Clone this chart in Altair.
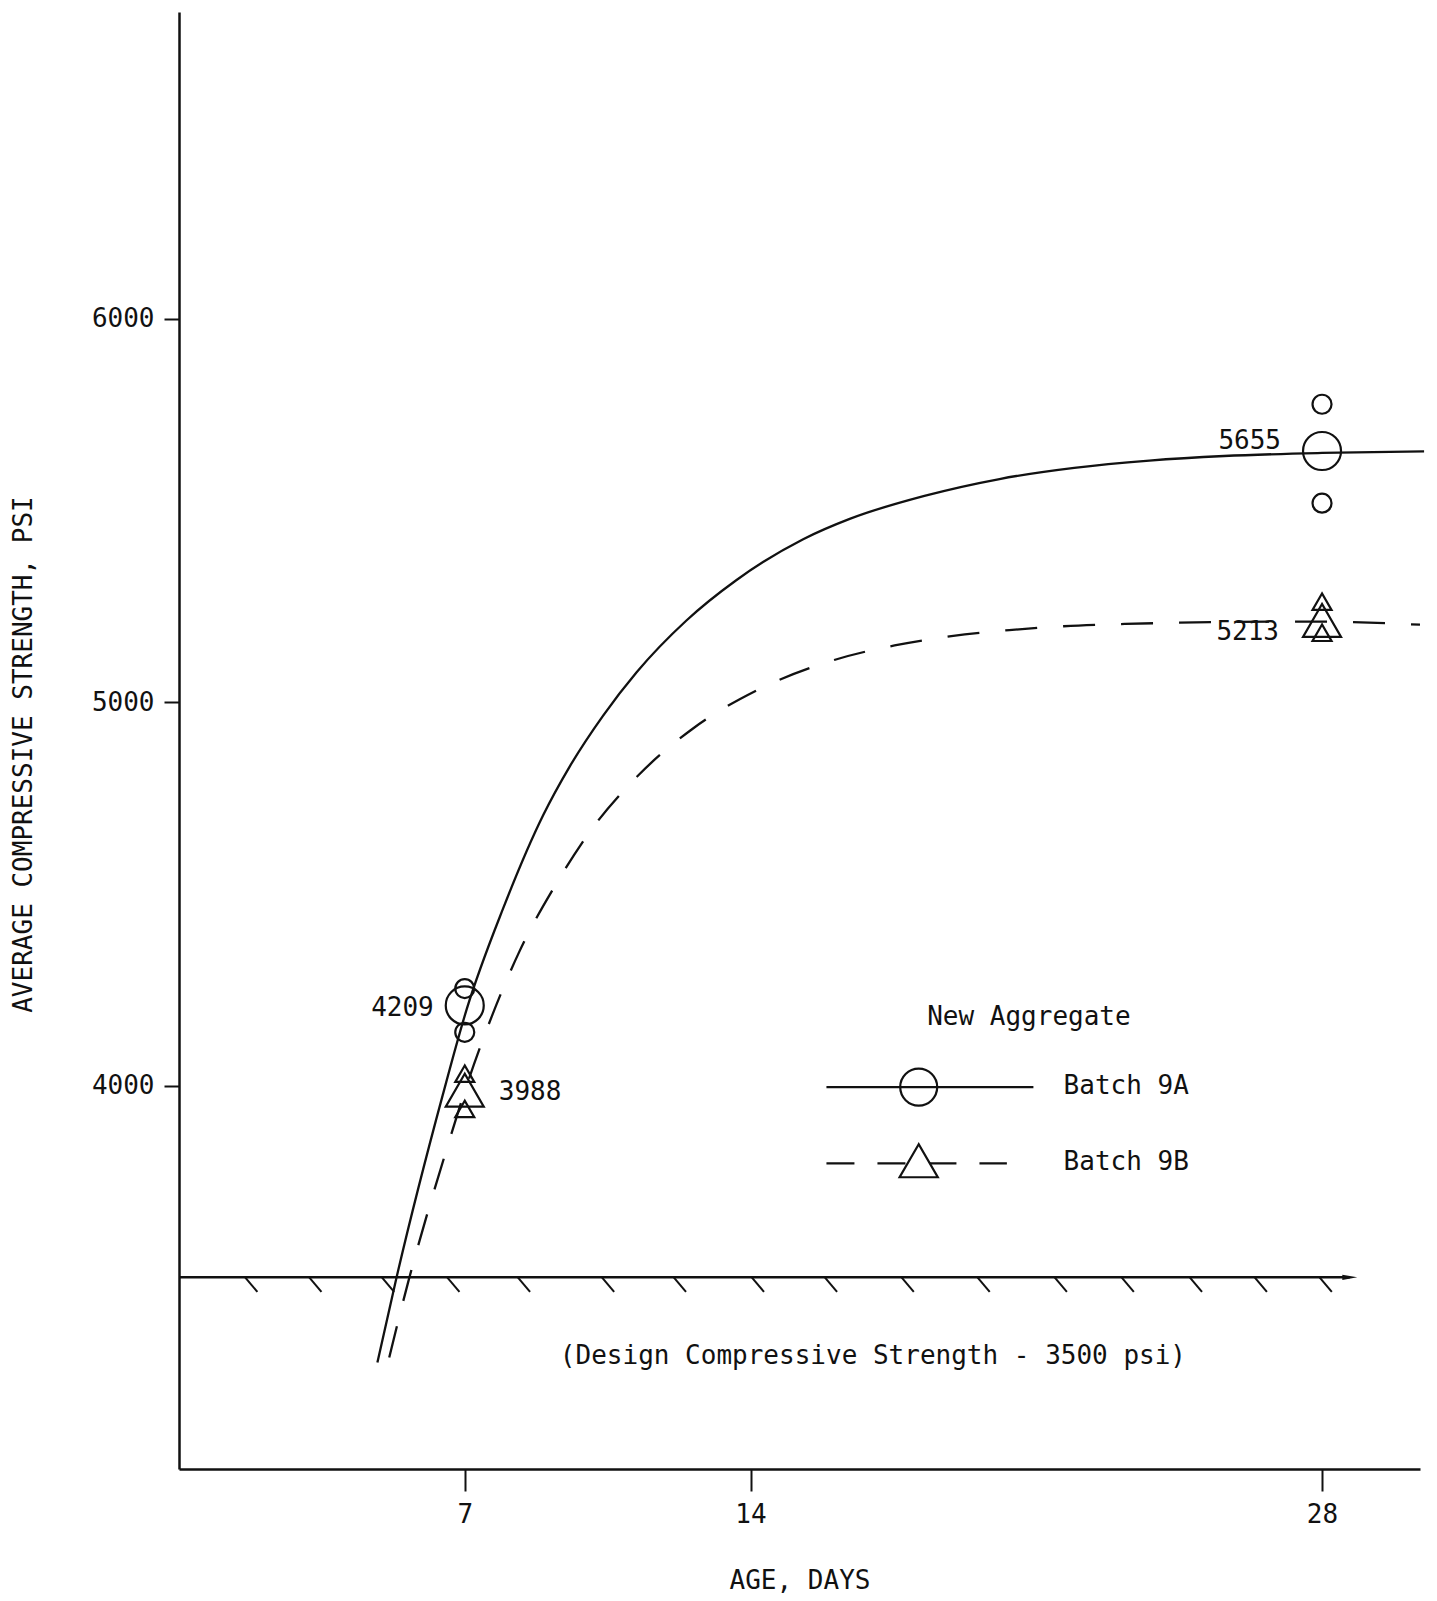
import altair as alt
import pandas as pd

# ---- curves ----
a_days = [4.86, 5.33, 6.46, 7.05, 7.94, 8.92, 9.57, 10.39, 11.21, 12.43,
          13.65, 15.29, 16.43, 18.26, 20.1, 21.93, 23.77, 25.6, 28.0, 30.5]
a_psi = [3278, 3500, 3975, 4200, 4462, 4705, 4832, 4965, 5078, 5213,
         5318, 5425, 5478, 5538, 5582, 5611, 5630, 5642, 5650, 5654]

b_days = [5.15, 5.62, 6.08, 6.54, 7.0, 7.66, 8.34, 9.29, 10.07, 11.26, 12.6, 14.14,
          16.05, 17.53, 18.92, 20.34, 21.67, 23.18, 24.4, 25.64, 27.0, 28.0, 30.4]
b_psi = [3291, 3490, 3665, 3828, 3985, 4180, 4350, 4535, 4663, 4810, 4932, 5030,
         5110, 5148, 5172, 5188, 5198, 5204, 5207, 5209, 5210, 5210, 5202]

# ---- test results ----
circ_days = [7, 7, 7, 28, 28, 28]
circ_psi = [4253, 4209, 4139, 5777, 5655, 5519]
circ_kind = ["single", "average", "single", "single", "average", "single"]

tri_days = [7, 7, 7, 28, 28, 28]
tri_psi = [4031, 3988, 3939, 5262, 5213, 5181]
tri_kind = ["single", "average", "single", "single", "average", "single"]

avg_labels = ["4209", "3988", "5655", "5213"]
avg_days = [7, 7, 28, 28]
avg_psi = [4209, 3988, 5655, 5213]

design_psi = 3500
hatch_days = [1.62, 3.19, 4.97, 6.57, 8.3, 10.36, 12.12, 14.03, 15.82, 17.7,
              19.56, 21.45, 23.09, 24.76, 26.35, 27.94]

x_ticks = [7, 14, 28]
y_ticks = [4000, 5000, 6000]

INK = "#111111"
FONT = "DejaVu Sans Mono"
FS = 26

xscale = alt.Scale(domain=[0, 30.4], nice=False, zero=False)
yscale = alt.Scale(domain=[3000, 6800], nice=False, zero=False)
xaxis = alt.Axis(values=x_ticks, title="AGE, DAYS", grid=False, tickSize=22,
                 labelPadding=10, titlePadding=40, format="d")
yaxis = alt.Axis(values=y_ticks, title="AVERAGE COMPRESSIVE STRENGTH, PSI", grid=False,
                 tickSize=15, labelPadding=10, titlePadding=55, titleY=742, format="d")


def X(f="day"):
    return alt.X(f, type="quantitative", scale=xscale, axis=xaxis)


def Y(f="psi"):
    return alt.Y(f, type="quantitative", scale=yscale, axis=yaxis)


df_a = pd.DataFrame({"day": a_days, "psi": a_psi})
df_b = pd.DataFrame({"day": b_days, "psi": b_psi})
df_c = pd.DataFrame({"day": circ_days, "psi": circ_psi, "kind": circ_kind})
df_t = pd.DataFrame({"day": tri_days, "psi": tri_psi, "kind": tri_kind})
df_lab = pd.DataFrame({"day": avg_days, "psi": avg_psi, "label": avg_labels})

line_a = alt.Chart(df_a).mark_line(color=INK, strokeWidth=2.3, interpolate="monotone").encode(
    x=X(), y=Y())
line_b = alt.Chart(df_b).mark_line(color=INK, strokeWidth=2.3, interpolate="monotone",
                                   strokeDash=[32, 26]).encode(x=X(), y=Y())

circles = alt.Chart(df_c).mark_point(shape="circle", filled=False, color=INK, strokeWidth=2.2,
                                     opacity=1).encode(
    x=X(), y=Y(),
    size=alt.Size("kind:N", scale=alt.Scale(domain=["single", "average"], range=[361, 1444]), legend=None))
tris = alt.Chart(df_t).mark_point(shape="triangle-up", filled=False, color=INK, strokeWidth=2.2,
                                  opacity=1).encode(
    x=X(), y=Y(),
    size=alt.Size("kind:N", scale=alt.Scale(domain=["single", "average"], range=[530, 1400]), legend=None))

label_offsets = [(-31, 3, "right"), (34, 2, "left"), (-41, -10, "right"), (-43, 12, "right")]
labels = []
for i, (dx, dy, al) in enumerate(label_offsets):
    labels.append(
        alt.Chart(df_lab.iloc[[i]]).mark_text(font=FONT, fontSize=FS, color=INK, align=al,
                                              baseline="middle", dx=dx, dy=dy).encode(
            x=X(), y=Y(), text="label:N"))

# design strength line
df_design = pd.DataFrame({"day": [0.0], "day2": [28.68], "psi": [design_psi]})
design = alt.Chart(df_design).mark_rule(color=INK, strokeWidth=2.5).encode(
    x=X(), x2=alt.X2("day2"), y=Y())
arrow = alt.Chart(df_design).mark_point(shape="M-1,-0.35L1,0L-1,0.35Z", filled=True, color=INK,
                                         size=225, opacity=1).encode(x=X("day2"), y=Y())
df_hatch = pd.DataFrame({"day": hatch_days,
                         "day2": [d + 0.3 for d in hatch_days],
                         "psi": [design_psi] * len(hatch_days),
                         "psi2": [design_psi - 38] * len(hatch_days)})
hatches = alt.Chart(df_hatch).mark_rule(color=INK, strokeWidth=2).encode(
    x=X(), x2=alt.X2("day2"), y=Y(), y2=alt.Y2("psi2"))
df_dtext = pd.DataFrame({"day": [9.33], "psi": [3296],
                         "t": ["(Design Compressive Strength - 3500 psi)"]})
design_text = alt.Chart(df_dtext).mark_text(font=FONT, fontSize=FS, color=INK, align="left",
                                            baseline="middle").encode(x=X(), y=Y(), text="t:N")

# hand-drawn legend
df_ltitle = pd.DataFrame({"day": [20.82], "psi": [4178], "t": ["New Aggregate"]})
leg_title = alt.Chart(df_ltitle).mark_text(font=FONT, fontSize=FS, color=INK, align="center",
                                           baseline="middle").encode(x=X(), y=Y(), text="t:N")
df_la = pd.DataFrame({"day": [15.86], "day2": [20.93], "psi": [3996]})
leg_line_a = alt.Chart(df_la).mark_rule(color=INK, strokeWidth=2.2).encode(
    x=X(), x2=alt.X2("day2"), y=Y())
df_lb = pd.DataFrame({"day": [15.86], "day2": [20.28], "psi": [3797]})
leg_line_b = alt.Chart(df_lb).mark_rule(color=INK, strokeWidth=2.2, strokeDash=[28, 23]).encode(
    x=X(), x2=alt.X2("day2"), y=Y())
df_lc = pd.DataFrame({"day": [18.12], "psi": [3996]})
leg_circ = alt.Chart(df_lc).mark_point(shape="circle", filled=False, color=INK, strokeWidth=2.2,
                                       size=1369, opacity=1).encode(x=X(), y=Y())
df_lt = pd.DataFrame({"day": [18.12], "psi": [3804]})
leg_tri = alt.Chart(df_lt).mark_point(shape="triangle-up", filled=True, fill="white", stroke=INK,
                                      strokeWidth=2.2, size=1460, opacity=1).encode(x=X(), y=Y())
df_ltxt = pd.DataFrame({"day": [21.67, 21.67], "psi": [3998, 3800], "t": ["Batch 9A", "Batch 9B"]})
leg_txt = alt.Chart(df_ltxt).mark_text(font=FONT, fontSize=FS, color=INK, align="left",
                                       baseline="middle").encode(x=X(), y=Y(), text="t:N")

chart = alt.layer(
    design, hatches, arrow, design_text,
    line_a, line_b, circles, tris, *labels,
    leg_title, leg_line_a, leg_line_b, leg_circ, leg_tri, leg_txt,
).properties(
    width=1241, height=1457,
    padding={"left": 171, "top": 4, "right": 8, "bottom": 125},
    autosize=alt.AutoSizeParams(type="none"),
    background="white",
).configure_view(stroke=None).configure_axis(
    domainColor=INK, domainWidth=2.5, tickColor=INK, tickWidth=2,
    labelFont=FONT, labelFontSize=FS, labelColor=INK,
    titleFont=FONT, titleFontSize=FS, titleFontWeight="normal", titleColor=INK,
)

chart.save("out.html", embed_options={"renderer": "svg", "actions": False})
